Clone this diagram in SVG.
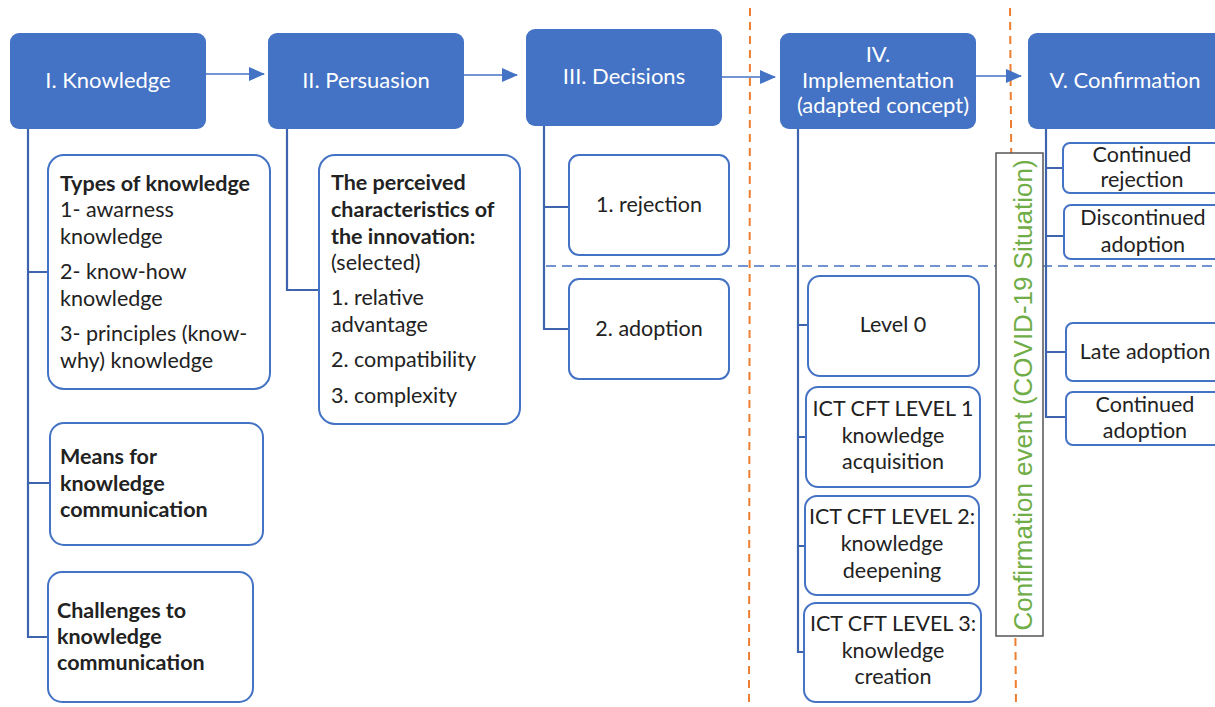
<svg xmlns="http://www.w3.org/2000/svg" width="1215" height="707" viewBox="0 0 1215 707">
<defs>
<marker id="ah" markerWidth="16" markerHeight="14" refX="15" refY="7" orient="auto" markerUnits="userSpaceOnUse">
<path d="M0,0 L16,7 L0,14 Z" fill="#4472C4"/>
</marker>
<style>
.hdr{fill:#4472C4;}
.ht{font-family:Lato,"Open Sans",sans-serif;font-size:22px;fill:#fff;text-anchor:middle;}
.box{fill:#fff;stroke:#4472C4;stroke-width:2;}
.t{font-family:Lato,"Open Sans",sans-serif;font-size:21.5px;fill:#222;}
.c{text-anchor:middle;}
.b{font-weight:bold;}
.con{fill:none;stroke:#3F64AE;stroke-width:2.2;}
.arr{fill:none;stroke:#4472C4;stroke-width:1.5;}
</style>
</defs>
<rect width="1215" height="707" fill="#fff"/>

<g id="guides">
<line x1="750" y1="8" x2="749" y2="707" stroke="#ED7D31" stroke-width="2" stroke-dasharray="8,6"/>
<line x1="1010" y1="8" x2="1016" y2="707" stroke="#ED7D31" stroke-width="2" stroke-dasharray="8,6"/>
<line x1="546" y1="266" x2="1215" y2="266" stroke="#4472C4" stroke-width="1.3" stroke-dasharray="10,6"/>
</g>

<g id="connectors">
<path class="arr" d="M206,74 H264" marker-end="url(#ah)"/>
<path class="arr" d="M464,75 H517" marker-end="url(#ah)"/>
<path class="arr" d="M722,77 H775" marker-end="url(#ah)"/>
<path class="arr" d="M976,76 H1021" marker-end="url(#ah)"/>
<path class="con" d="M28,129 V637 H48 M28,272 H48 M28,483 H50"/>
<path class="con" d="M287,129 V290 H319"/>
<path class="con" d="M544,126 V329 H569 M544,207 H569"/>
<path class="con" d="M798,129 V652 H804 M798,325 H808 M798,437 H806 M798,546 H805"/>
<path class="con" d="M1046,129 V417 H1066 M1046,168 H1063 M1046,236 H1064 M1046,352 H1066"/>
</g>

<g id="n-knowledge"><rect class="hdr" x="10" y="33" width="196" height="96" rx="9"/><text class="ht" x="108" y="88">I. Knowledge</text></g>
<g id="n-persuasion"><rect class="hdr" x="268" y="33" width="196" height="96" rx="9"/><text class="ht" x="366" y="88">II. Persuasion</text></g>
<g id="n-decisions"><rect class="hdr" x="526" y="29" width="196" height="97" rx="9"/><text class="ht" x="624" y="84">III. Decisions</text></g>
<g id="n-implementation"><rect class="hdr" x="780" y="33" width="196" height="96" rx="9"/>
<text class="ht" x="878" y="62">IV.</text><text class="ht" x="878" y="88">Implementation</text><text class="ht" x="883" y="113">(adapted concept)</text></g>
<g id="n-confirmation"><rect class="hdr" x="1028" y="33" width="200" height="96" rx="9"/><text class="ht" x="1125" y="88">V. Confirmation</text></g>

<g id="n-types"><rect class="box" x="48" y="155" width="222" height="234" rx="16"/>
<text class="t b" x="60" y="191">Types of knowledge</text>
<text class="t" x="60" y="217">1- awarness</text>
<text class="t" x="60" y="244">knowledge</text>
<text class="t" x="60" y="279">2- know-how</text>
<text class="t" x="60" y="306">knowledge</text>
<text class="t" x="60" y="341">3- principles (know-</text>
<text class="t" x="60" y="368">why) knowledge</text></g>

<g id="n-means"><rect class="box" x="50" y="423" width="213" height="122" rx="14"/>
<text class="t b" x="60" y="464">Means for</text>
<text class="t b" x="60" y="491">knowledge</text>
<text class="t b" x="60" y="517">communication</text></g>

<g id="n-challenges"><rect class="box" x="48" y="572" width="205" height="130" rx="14"/>
<text class="t b" x="57" y="618">Challenges to</text>
<text class="t b" x="57" y="644">knowledge</text>
<text class="t b" x="57" y="670">communication</text></g>

<g id="n-perceived"><rect class="box" x="319" y="155" width="201" height="269" rx="16"/>
<text class="t b" x="331" y="190">The perceived</text>
<text class="t b" x="331" y="217">characteristics of</text>
<text class="t b" x="331" y="244">the innovation:</text>
<text class="t" x="331" y="270">(selected)</text>
<text class="t" x="331" y="305">1. relative</text>
<text class="t" x="331" y="332">advantage</text>
<text class="t" x="331" y="367">2. compatibility</text>
<text class="t" x="331" y="403">3. complexity</text></g>

<g id="n-rejection"><rect class="box" x="569" y="155" width="160" height="100" rx="10"/><text class="t c" x="649" y="212">1. rejection</text></g>
<g id="n-adoption"><rect class="box" x="569" y="279" width="160" height="100" rx="10"/><text class="t c" x="649" y="336">2. adoption</text></g>

<g id="n-level0"><rect class="box" x="808" y="276" width="171" height="100" rx="12"/><text class="t c" x="893" y="332">Level 0</text></g>
<g id="n-level1"><rect class="box" x="806" y="387" width="174" height="100" rx="12"/>
<text class="t c" x="893" y="416">ICT CFT LEVEL 1</text><text class="t c" x="893" y="443">knowledge</text><text class="t c" x="893" y="469">acquisition</text></g>
<g id="n-level2"><rect class="box" x="805" y="496" width="174" height="99" rx="12"/>
<text class="t c" x="892" y="524">ICT CFT LEVEL 2:</text><text class="t c" x="892" y="551">knowledge</text><text class="t c" x="892" y="578">deepening</text></g>
<g id="n-level3"><rect class="box" x="804" y="603" width="177" height="99" rx="12"/>
<text class="t c" x="893" y="631">ICT CFT LEVEL 3:</text><text class="t c" x="893" y="658">knowledge</text><text class="t c" x="893" y="684">creation</text></g>

<g id="n-event"><rect x="996" y="153" width="47" height="483" fill="#fff" stroke="#555" stroke-width="1.5"/>
<text transform="translate(1032,395) rotate(-90)" x="0" y="0" text-anchor="middle" font-family="'Liberation Sans',Arial,sans-serif" font-size="26" fill="#70AD47">Confirmation event (COVID-19  Situation)</text></g>

<g id="n-cont-rej"><rect class="box" x="1063" y="143" width="170" height="50" rx="7"/>
<text class="t c" x="1142" y="162">Continued</text><text class="t c" x="1142" y="187">rejection</text></g>
<g id="n-discont"><rect class="box" x="1064" y="205" width="170" height="54" rx="7"/>
<text class="t c" x="1143" y="225">Discontinued</text><text class="t c" x="1143" y="252">adoption</text></g>
<g id="n-late"><rect class="box" x="1066" y="323" width="170" height="58" rx="7"/>
<text class="t c" x="1145" y="359">Late adoption</text></g>
<g id="n-cont-adopt"><rect class="box" x="1066" y="392" width="170" height="53" rx="7"/>
<text class="t c" x="1145" y="412">Continued</text><text class="t c" x="1145" y="438">adoption</text></g>
</svg>
